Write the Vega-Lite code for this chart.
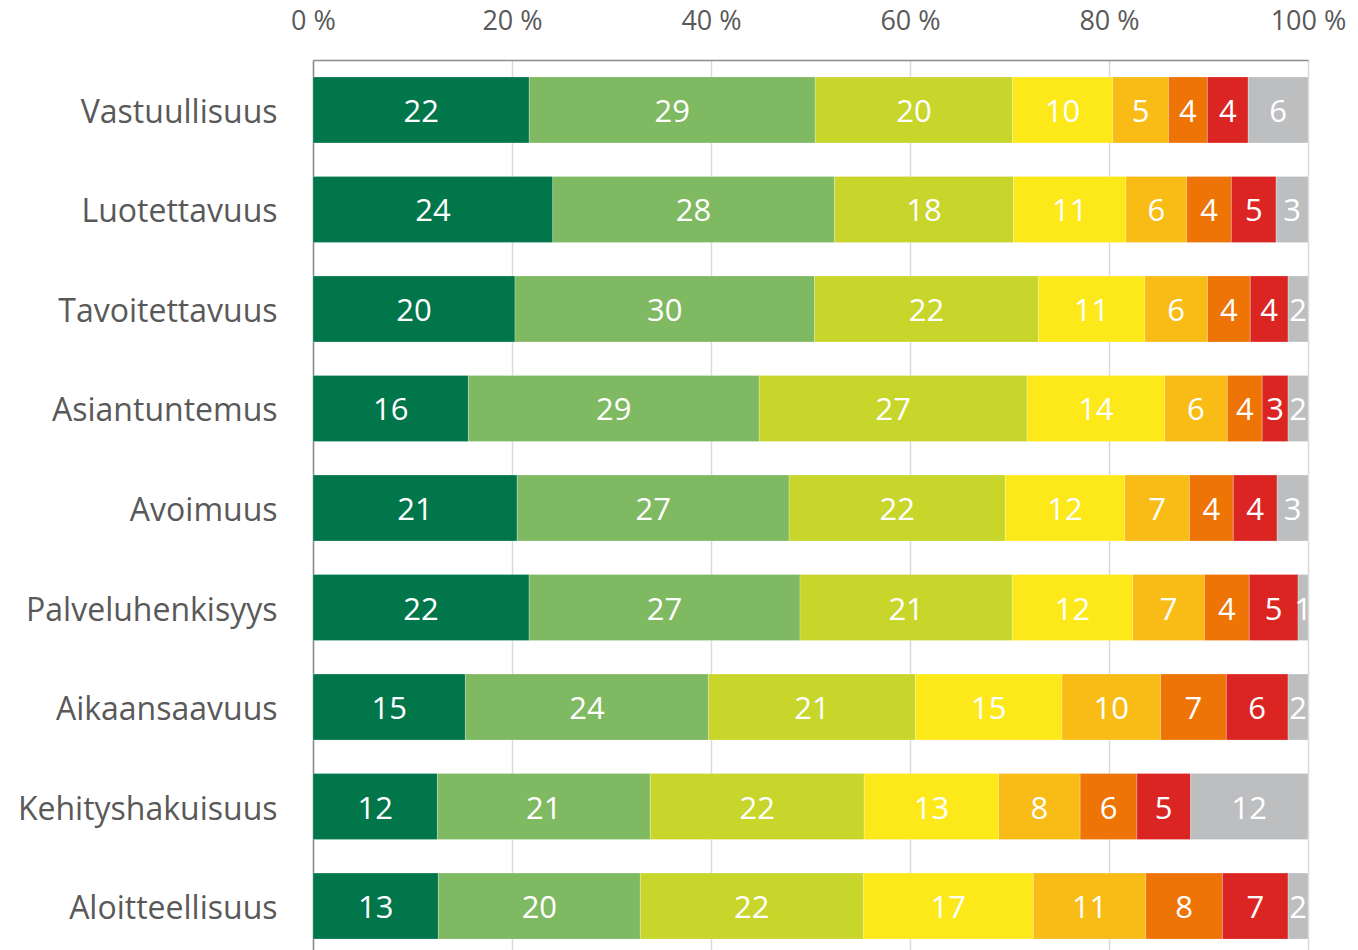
{
  "$schema": "https://vega.github.io/schema/vega-lite/v6.json",
  "width": 995,
  "height": 896,
  "autosize": {"type": "none"},
  "padding": {"left": 313, "top": 60, "right": 50, "bottom": 0},
  "background": "white",
  "config": {"view": {"stroke": null}, "font": "Open Sans"},
  "data": {"values": [
    {"cat": "Vastuullisuus", "k": 1, "v": 21.7, "lab": 22},
    {"cat": "Vastuullisuus", "k": 2, "v": 28.7, "lab": 29},
    {"cat": "Vastuullisuus", "k": 3, "v": 19.8, "lab": 20},
    {"cat": "Vastuullisuus", "k": 4, "v": 10.05, "lab": 10},
    {"cat": "Vastuullisuus", "k": 5, "v": 5.6, "lab": 5},
    {"cat": "Vastuullisuus", "k": 6, "v": 3.9, "lab": 4},
    {"cat": "Vastuullisuus", "k": 7, "v": 4.1, "lab": 4},
    {"cat": "Vastuullisuus", "k": 8, "v": 6.0, "lab": 6},
    {"cat": "Luotettavuus", "k": 1, "v": 24.1, "lab": 24},
    {"cat": "Luotettavuus", "k": 2, "v": 28.3, "lab": 28},
    {"cat": "Luotettavuus", "k": 3, "v": 18.0, "lab": 18},
    {"cat": "Luotettavuus", "k": 4, "v": 11.3, "lab": 11},
    {"cat": "Luotettavuus", "k": 5, "v": 6.1, "lab": 6},
    {"cat": "Luotettavuus", "k": 6, "v": 4.5, "lab": 4},
    {"cat": "Luotettavuus", "k": 7, "v": 4.5, "lab": 5},
    {"cat": "Luotettavuus", "k": 8, "v": 3.2, "lab": 3},
    {"cat": "Tavoitettavuus", "k": 1, "v": 20.3, "lab": 20},
    {"cat": "Tavoitettavuus", "k": 2, "v": 30.1, "lab": 30},
    {"cat": "Tavoitettavuus", "k": 3, "v": 22.5, "lab": 22},
    {"cat": "Tavoitettavuus", "k": 4, "v": 10.7, "lab": 11},
    {"cat": "Tavoitettavuus", "k": 5, "v": 6.3, "lab": 6},
    {"cat": "Tavoitettavuus", "k": 6, "v": 4.3, "lab": 4},
    {"cat": "Tavoitettavuus", "k": 7, "v": 3.8, "lab": 4},
    {"cat": "Tavoitettavuus", "k": 8, "v": 2.0, "lab": 2},
    {"cat": "Asiantuntemus", "k": 1, "v": 15.6, "lab": 16},
    {"cat": "Asiantuntemus", "k": 2, "v": 29.2, "lab": 29},
    {"cat": "Asiantuntemus", "k": 3, "v": 26.9, "lab": 27},
    {"cat": "Asiantuntemus", "k": 4, "v": 13.8, "lab": 14},
    {"cat": "Asiantuntemus", "k": 5, "v": 6.3, "lab": 6},
    {"cat": "Asiantuntemus", "k": 6, "v": 3.5, "lab": 4},
    {"cat": "Asiantuntemus", "k": 7, "v": 2.6, "lab": 3},
    {"cat": "Asiantuntemus", "k": 8, "v": 2.0, "lab": 2},
    {"cat": "Avoimuus", "k": 1, "v": 20.5, "lab": 21},
    {"cat": "Avoimuus", "k": 2, "v": 27.3, "lab": 27},
    {"cat": "Avoimuus", "k": 3, "v": 21.7, "lab": 22},
    {"cat": "Avoimuus", "k": 4, "v": 12.0, "lab": 12},
    {"cat": "Avoimuus", "k": 5, "v": 6.5, "lab": 7},
    {"cat": "Avoimuus", "k": 6, "v": 4.4, "lab": 4},
    {"cat": "Avoimuus", "k": 7, "v": 4.4, "lab": 4},
    {"cat": "Avoimuus", "k": 8, "v": 3.1, "lab": 3},
    {"cat": "Palveluhenkisyys", "k": 1, "v": 21.7, "lab": 22},
    {"cat": "Palveluhenkisyys", "k": 2, "v": 27.2, "lab": 27},
    {"cat": "Palveluhenkisyys", "k": 3, "v": 21.3, "lab": 21},
    {"cat": "Palveluhenkisyys", "k": 4, "v": 12.1, "lab": 12},
    {"cat": "Palveluhenkisyys", "k": 5, "v": 7.2, "lab": 7},
    {"cat": "Palveluhenkisyys", "k": 6, "v": 4.5, "lab": 4},
    {"cat": "Palveluhenkisyys", "k": 7, "v": 4.9, "lab": 5},
    {"cat": "Palveluhenkisyys", "k": 8, "v": 1.0, "lab": 1},
    {"cat": "Aikaansaavuus", "k": 1, "v": 15.3, "lab": 15},
    {"cat": "Aikaansaavuus", "k": 2, "v": 24.4, "lab": 24},
    {"cat": "Aikaansaavuus", "k": 3, "v": 20.8, "lab": 21},
    {"cat": "Aikaansaavuus", "k": 4, "v": 14.7, "lab": 15},
    {"cat": "Aikaansaavuus", "k": 5, "v": 9.9, "lab": 10},
    {"cat": "Aikaansaavuus", "k": 6, "v": 6.6, "lab": 7},
    {"cat": "Aikaansaavuus", "k": 7, "v": 6.2, "lab": 6},
    {"cat": "Aikaansaavuus", "k": 8, "v": 2.0, "lab": 2},
    {"cat": "Kehityshakuisuus", "k": 1, "v": 12.5, "lab": 12},
    {"cat": "Kehityshakuisuus", "k": 2, "v": 21.4, "lab": 21},
    {"cat": "Kehityshakuisuus", "k": 3, "v": 21.5, "lab": 22},
    {"cat": "Kehityshakuisuus", "k": 4, "v": 13.5, "lab": 13},
    {"cat": "Kehityshakuisuus", "k": 5, "v": 8.2, "lab": 8},
    {"cat": "Kehityshakuisuus", "k": 6, "v": 5.7, "lab": 6},
    {"cat": "Kehityshakuisuus", "k": 7, "v": 5.4, "lab": 5},
    {"cat": "Kehityshakuisuus", "k": 8, "v": 11.8, "lab": 12},
    {"cat": "Aloitteellisuus", "k": 1, "v": 12.6, "lab": 13},
    {"cat": "Aloitteellisuus", "k": 2, "v": 20.3, "lab": 20},
    {"cat": "Aloitteellisuus", "k": 3, "v": 22.4, "lab": 22},
    {"cat": "Aloitteellisuus", "k": 4, "v": 17.1, "lab": 17},
    {"cat": "Aloitteellisuus", "k": 5, "v": 11.3, "lab": 11},
    {"cat": "Aloitteellisuus", "k": 6, "v": 7.7, "lab": 8},
    {"cat": "Aloitteellisuus", "k": 7, "v": 6.6, "lab": 7},
    {"cat": "Aloitteellisuus", "k": 8, "v": 2.0, "lab": 2}
  ]},
  "encoding": {
    "y": {
      "field": "cat", "type": "nominal", "sort": null,
      "scale": {"paddingInner": 0.337, "paddingOuter": 0.17},
      "axis": {
        "title": null, "ticks": false, "tickSize": 0, "labelPadding": 36,
        "labelFontSize": 32, "labelColor": "#595959", "labelFont": "Open Sans",
        "labelLimit": 0, "labelOffset": 3,
        "domainColor": "#8c8c8c", "domainWidth": 1.5
      }
    }
  },
  "layer": [
    {
      "mark": {"type": "bar", "stroke": "#ffffff", "strokeWidth": 0.4, "strokeOpacity": 0.6},
      "encoding": {
        "x": {
          "field": "v", "type": "quantitative", "stack": "normalize",
          "scale": {"domain": [0, 1], "nice": false},
          "axis": {
            "orient": "top", "title": null, "values": [0, 0.2, 0.4, 0.6, 0.8, 1],
            "labelExpr": "format(datum.value * 100, 'd') + ' %'",
            "ticks": false, "tickSize": 0, "labelPadding": 25,
            "labelFontSize": 27, "labelColor": "#595959", "labelFont": "Open Sans",
            "labelFlush": false, "labelOverlap": false,
            "domainColor": "#8c8c8c", "domainWidth": 1.5,
            "grid": true, "gridColor": "#d9d9d9", "gridWidth": 1.5
          }
        },
        "color": {
          "field": "k", "type": "ordinal", "legend": null,
          "scale": {
            "domain": [1, 2, 3, 4, 5, 6, 7, 8],
            "range": ["#00764a", "#7fb962", "#c8d52b", "#fde81a", "#f9bc16", "#ed7405", "#da2522", "#bdbec0"]
          }
        },
        "order": {"field": "k", "type": "quantitative"}
      }
    },
    {
      "mark": {"type": "text", "color": "white", "fontSize": 31, "font": "Open Sans", "clip": true, "baseline": "middle", "align": "center", "dy": 3},
      "encoding": {
        "x": {"field": "v", "type": "quantitative", "stack": "normalize", "bandPosition": 0.5},
        "text": {"field": "lab", "type": "quantitative", "format": "d"},
        "order": {"field": "k", "type": "quantitative"}
      }
    }
  ]
}
